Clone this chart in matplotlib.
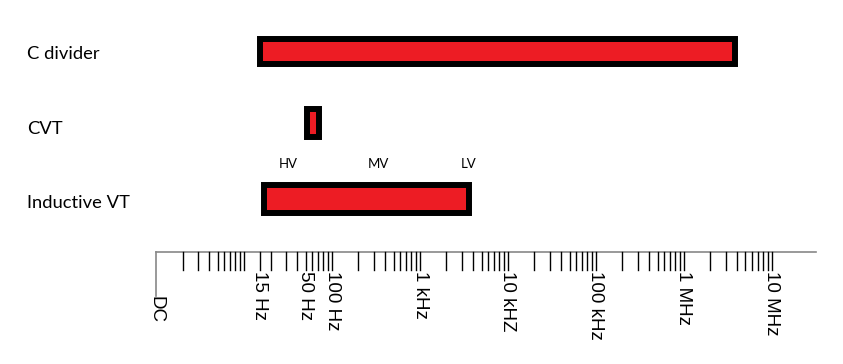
import numpy as np
import matplotlib.pyplot as plt
from matplotlib.patches import Rectangle

# frequency ranges of each transducer type (Hz)
devices = ["C divider", "CVT", "Inductive VT"]
f_low = [15, 52, 17]
f_high = [3.8e6, 72, 3.6e3]

# voltage level markers above the inductive VT bar (Hz)
level_names = ["HV", "MV", "LV"]
level_freqs = [32, 340, 3.6e3]

# labelled frequency ticks
tick_freqs = [15, 50, 100, 1e3, 1e4, 1e5, 1e6, 1e7]
tick_labels = ["15 Hz", "50 Hz", "100 Hz", "1 kHz", "10 kHZ", "100 kHz", "1 MHz", "10 MHz"]

# layout (pixel rows)
row_y = [51, 123, 199]
row_h = [25, 28, 28]
label_base = [59, 134, 208]
axis_y = 252

fig = plt.figure(figsize=(8.43, 3.64), dpi=100)
ax = fig.add_axes([0, 0, 1, 1])
ax.set_xscale("log")
ax.set_xlim(10 ** -1.773, 10 ** 7.807)
ax.set_ylim(364, 0)
ax.axis("off")

# bars
for name, lo, hi, y, h, yb in zip(devices, f_low, f_high, row_y, row_h, label_base):
    ax.add_patch(Rectangle((lo, y - h / 2), hi - lo, h, facecolor="#ED1C24",
                           edgecolor="black", linewidth=4.3))
    fig.text(27 / 843, 1 - yb / 364, name, fontsize=13.2, family="Lato",
             va="baseline", ha="left")

for name, f in zip(level_names, level_freqs):
    ax.text(f, 168, name, fontsize=9.5, family="Lato", ha="center", va="baseline")

# frequency axis
ax.plot([1, 10 ** 7.5], [axis_y, axis_y], color="#888888", lw=1.2)
ax.plot([1, 1], [axis_y, 296], color="#888888", lw=1.2)
minor = [k * 10.0 ** d for d in range(0, 7) for k in range(2, 11)]
for f in minor + [15]:
    ax.plot([f, f], [axis_y, 270], color="black", lw=1)

for f, lab in zip(tick_freqs, tick_labels):
    ax.text(f, 271, lab, rotation=270, fontsize=13.5, family="Liberation Sans",
            ha="center", va="top")
ax.text(1, 296, "DC", rotation=270, fontsize=13.5, family="Liberation Sans",
        ha="center", va="top")

fig.savefig("out.png", dpi=100)
